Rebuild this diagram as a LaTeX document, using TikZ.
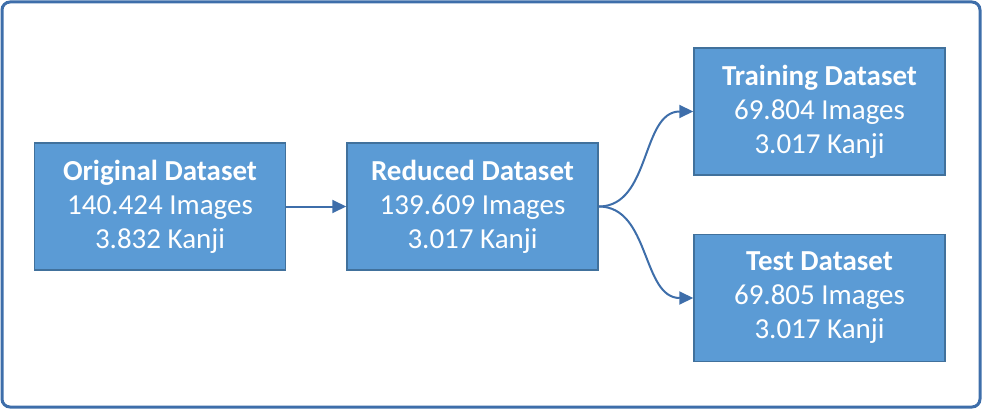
\documentclass[tikz,border=0pt]{standalone}
\usepackage{fontspec}
\setmainfont{Carlito}
\usetikzlibrary{arrows.meta}
\definecolor{boxfill}{HTML}{5B9BD5}
\definecolor{boxline}{HTML}{41719C}
\definecolor{arr}{HTML}{3E6EAA}
\begin{document}
\begin{tikzpicture}[x=1pt,y=-1pt,
  dbox/.style={draw=boxline,line width=1.5pt,fill=boxfill,minimum width=251pt,minimum height=127pt,
    text=white,align=center,font=\fontsize{29}{34}\selectfont,inner sep=0pt},
  conn/.style={draw=arr,line width=2pt,-{Triangle[length=14pt,width=13pt]}}]
\useasboundingbox (0,0) rectangle (982,409);
\draw[draw=arr,line width=3pt,rounded corners=8pt] (2,2) rectangle (980,407);
\node[dbox] (orig) at (160,206.5) {\textbf{Original Dataset}\\140.424 Images\\3.832 Kanji};
\node[dbox] (red) at (472.5,206.5) {\textbf{Reduced Dataset}\\139.609 Images\\3.017 Kanji};
\node[dbox] (train) at (819.5,111.5) {\textbf{Training Dataset}\\69.804 Images\\3.017 Kanji};
\node[dbox] (test) at (819.5,298) {\textbf{Test Dataset}\\69.805 Images\\3.017 Kanji};
\draw[conn] (orig.east) -- (red.west);
\draw[conn] (red.east) to[out=0,in=180,looseness=1] (train.west);
\draw[conn] (red.east) to[out=0,in=180,looseness=1] (test.west);
\end{tikzpicture}
\end{document}
